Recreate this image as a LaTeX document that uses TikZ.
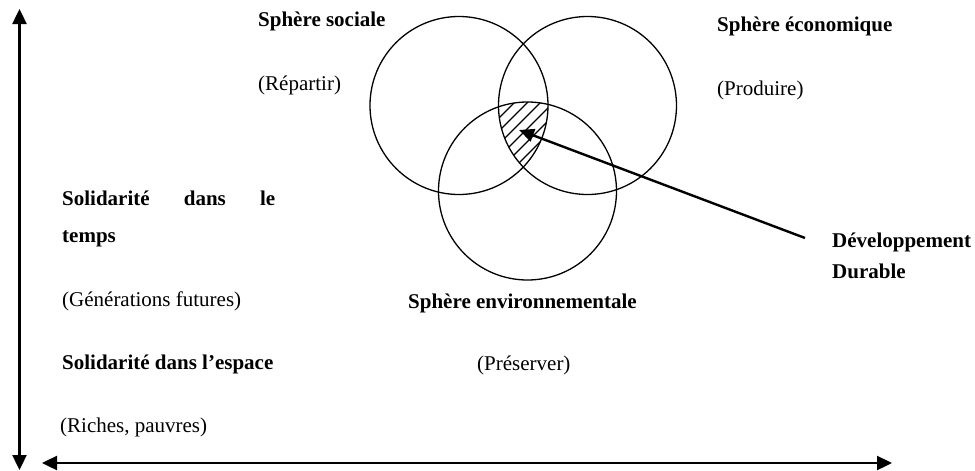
\documentclass[tikz,border=0pt]{standalone}
\usepackage{fontspec}
\setmainfont{Liberation Serif}
\usetikzlibrary{arrows.meta}
\begin{document}
\begin{tikzpicture}[x=1pt,y=-1pt,
  lbl/.style={anchor=base west,inner sep=0pt,font=\fontsize{21}{25}\selectfont},
  blbl/.style={lbl,font=\fontsize{21}{25}\selectfont\bfseries},
  sphere/.style={circle,draw,line width=1.3pt,minimum size=178pt,inner sep=0pt},
  axis/.style={line width=2.4pt,{Triangle[length=15pt,width=14pt]}-{Triangle[length=15pt,width=14pt]}},
  pointer/.style={line width=2.4pt,-{Triangle[length=15pt,width=13pt]}},
  hatch/.style={line width=1.3pt}]
\useasboundingbox (0,0) rectangle (975,471);
% circles
\node[sphere] (soc) at (459,105.5) {};
\node[sphere] (eco) at (587.5,105.5) {};
\node[sphere] (env) at (527.5,191) {};
% hatching of the common area
\begin{scope}
  \clip (459,105.5) circle (89pt);
  \clip (587.5,105.5) circle (89pt);
  \clip (527.5,191) circle (89pt);
  \foreach \c in {604,617,...,720}
    \draw[hatch] (\c-200,200) -- (\c,0);
\end{scope}
% axes
\coordinate (vtop) at (19.5,9);
\coordinate (vbot) at (19.5,470);
\coordinate (hleft) at (42,463);
\coordinate (hright) at (892,463);
\draw[axis] (vbot) -- (vtop);
\draw[axis] (hleft) -- (hright);
% texts
\node[blbl] (ssoc) at (258,27) {Sphère sociale};
\node[lbl] (rep) at (258,90) {(Répartir)};
\node[blbl] (seco) at (717,31) {Sphère économique};
\node[lbl] (prod) at (717,95) {(Produire)};
\node[blbl] (sol1) at (62,205) {\makebox[213pt][s]{Solidarité dans le}};
\node[blbl] (sol2) at (62,242) {temps};
\node[lbl] (gen) at (62,306) {(Générations futures)};
\node[blbl] (sol3) at (62,369) {Solidarité dans l’espace};
\node[lbl] (rich) at (60,432) {(Riches, pauvres)};
\node[blbl] (senv) at (408,308) {Sphère environnementale};
\node[lbl] (pres) at (477,370) {(Préserver)};
\node[blbl] (dev) at (832,247) {Développement};
\node[blbl] (dur) at (832,278) {Durable};
% pointer
\coordinate (pstart) at (805,238);
\coordinate (ptip) at (519,130);
\draw[pointer] (pstart) -- (ptip);
\end{tikzpicture}
\end{document}
